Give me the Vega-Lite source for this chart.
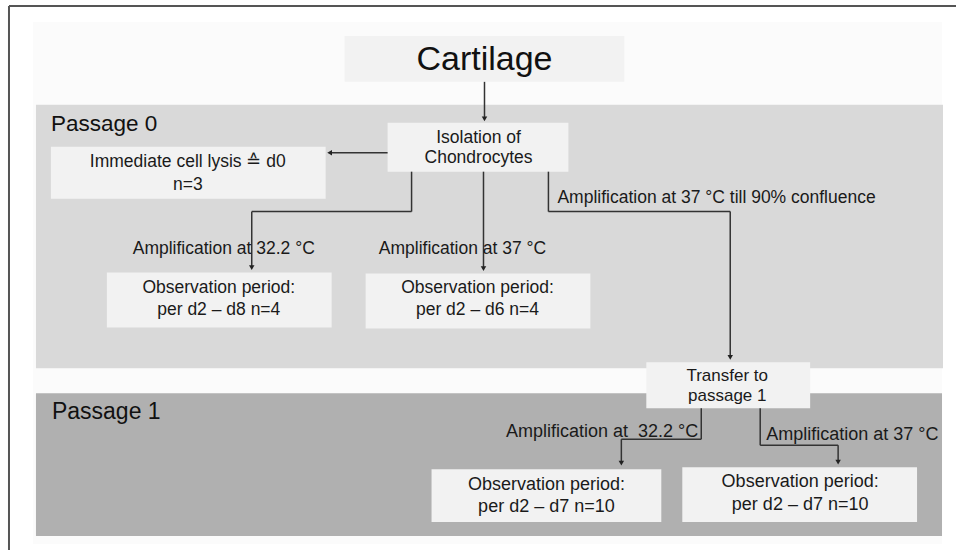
{
  "$schema": "https://vega.github.io/schema/vega-lite/v6.json",
  "width": 957,
  "height": 551,
  "autosize": {"type": "fit", "contains": "padding"},
  "padding": 0,
  "background": "white",
  "config": {"view": {"stroke": null}},
  "datasets": {
    "boxes": [
      {"x": 33, "x2": 943, "y": 22, "y2": 545, "kind": "bg"},
      {"x": 36, "x2": 944, "y": 105, "y2": 369, "kind": "p0"},
      {"x": 36, "x2": 943, "y": 394, "y2": 537, "kind": "p1"},
      {"x": 345, "x2": 625, "y": 36, "y2": 82, "kind": "box"},
      {"x": 388, "x2": 569, "y": 123, "y2": 172, "kind": "box"},
      {"x": 51, "x2": 326, "y": 147, "y2": 199, "kind": "box"},
      {"x": 107, "x2": 332, "y": 273, "y2": 328, "kind": "box"},
      {"x": 366, "x2": 591, "y": 274, "y2": 329, "kind": "box"},
      {"x": 647, "x2": 811, "y": 363, "y2": 409, "kind": "box"},
      {"x": 432, "x2": 662, "y": 470, "y2": 523, "kind": "box"},
      {"x": 683, "x2": 918, "y": 468, "y2": 523, "kind": "box"}
    ],
    "segments": [
      {"x": 9, "y": 6, "x2": 957, "y2": 6, "kind": "frame"},
      {"x": 9, "y": 6, "x2": 9, "y2": 551, "kind": "frame"},
      {"x": 485, "y": 82, "x2": 485, "y2": 118, "kind": "edge"},
      {"x": 388, "y": 153, "x2": 331, "y2": 153, "kind": "edge"},
      {"x": 412, "y": 172, "x2": 412, "y2": 212, "kind": "edge"},
      {"x": 412, "y": 212, "x2": 252, "y2": 212, "kind": "edge"},
      {"x": 252, "y": 212, "x2": 252, "y2": 267, "kind": "edge"},
      {"x": 484, "y": 172, "x2": 484, "y2": 268, "kind": "edge"},
      {"x": 549, "y": 172, "x2": 549, "y2": 212, "kind": "edge"},
      {"x": 549, "y": 212, "x2": 731, "y2": 212, "kind": "edge"},
      {"x": 731, "y": 212, "x2": 731, "y2": 357, "kind": "edge"},
      {"x": 702, "y": 409, "x2": 702, "y2": 440, "kind": "edge"},
      {"x": 702, "y": 440, "x2": 622, "y2": 440, "kind": "edge"},
      {"x": 622, "y": 440, "x2": 622, "y2": 462, "kind": "edge"},
      {"x": 761, "y": 409, "x2": 761, "y2": 446, "kind": "edge"},
      {"x": 761, "y": 446, "x2": 839, "y2": 446, "kind": "edge"},
      {"x": 839, "y": 446, "x2": 839, "y2": 461, "kind": "edge"}
    ],
    "arrows": [
      {"x": 485, "y": 119, "dir": "down"},
      {"x": 330, "y": 153, "dir": "left"},
      {"x": 252, "y": 268, "dir": "down"},
      {"x": 484, "y": 269, "dir": "down"},
      {"x": 731, "y": 358, "dir": "down"},
      {"x": 622, "y": 464, "dir": "down"},
      {"x": 839, "y": 463, "dir": "down"}
    ],
    "texts": [
      {"x": 485, "y": 60, "t": "Cartilage", "g": "title"},
      {"x": 51, "y": 124, "t": "Passage 0", "g": "p0head"},
      {"x": 479, "y": 138, "t": "Isolation of", "g": "p0c"},
      {"x": 479, "y": 158, "t": "Chondrocytes", "g": "p0c"},
      {"x": 188, "y": 162, "t": "Immediate cell lysis ≙ d0", "g": "p0c"},
      {"x": 188, "y": 185, "t": "n=3", "g": "p0c"},
      {"x": 224, "y": 249, "t": "Amplification at 32.2 °C", "g": "p0c"},
      {"x": 219, "y": 289, "t": "Observation period:", "g": "p0c"},
      {"x": 219, "y": 311, "t": "per d2 – d8 n=4", "g": "p0c"},
      {"x": 463, "y": 249, "t": "Amplification at 37 °C", "g": "p0c"},
      {"x": 478, "y": 289, "t": "Observation period:", "g": "p0c"},
      {"x": 478, "y": 311, "t": "per d2 – d6 n=4", "g": "p0c"},
      {"x": 558, "y": 198, "t": "Amplification at 37 °C till 90% confluence", "g": "p0l"},
      {"x": 52, "y": 413, "t": "Passage 1", "g": "p1head"},
      {"x": 728, "y": 377, "t": "Transfer to", "g": "p1t"},
      {"x": 728, "y": 397, "t": "passage 1", "g": "p1t"},
      {"x": 699, "y": 433, "t": "Amplification at\u00a0 32.2 °C", "g": "p1r"},
      {"x": 767, "y": 436, "t": "Amplification at 37 °C", "g": "p1l"},
      {"x": 547, "y": 486, "t": "Observation period:", "g": "p1c"},
      {"x": 547, "y": 508, "t": "per d2 – d7 n=10", "g": "p1c"},
      {"x": 801, "y": 483, "t": "Observation period:", "g": "p1c"},
      {"x": 801, "y": 506, "t": "per d2 – d7 n=10", "g": "p1c"}
    ]
  },
  "layer": [
    {
      "data": {"name": "boxes"},
      "mark": {"type": "rect", "strokeWidth": 0},
      "encoding": {
        "x": {"field": "x", "type": "quantitative", "scale": {"domain": [0, 957], "nice": false, "zero": false}, "axis": null},
        "x2": {"field": "x2"},
        "y": {"field": "y", "type": "quantitative", "scale": {"domain": [0, 551], "nice": false, "zero": false, "reverse": true}, "axis": null},
        "y2": {"field": "y2"},
        "color": {"field": "kind", "type": "nominal", "legend": null, "scale": {"domain": ["bg", "p0", "p1", "box"], "range": ["#fbfbfb", "#d9d9d9", "#b0b0b0", "#f2f2f2"]}}
      }
    },
    {
      "data": {"name": "segments"},
      "mark": {"type": "rule"},
      "encoding": {
        "x": {"field": "x", "type": "quantitative", "scale": {"domain": [0, 957], "nice": false, "zero": false}, "axis": null},
        "x2": {"field": "x2"},
        "y": {"field": "y", "type": "quantitative", "scale": {"domain": [0, 551], "nice": false, "zero": false, "reverse": true}, "axis": null},
        "y2": {"field": "y2"},
        "strokeWidth": {"field": "kind", "type": "nominal", "legend": null, "scale": {"domain": ["frame", "edge"], "range": [2, 1.5]}},
        "stroke": {"field": "kind", "type": "nominal", "legend": null, "scale": {"domain": ["frame", "edge"], "range": ["#555555", "#333333"]}}
      }
    },
    {
      "data": {"name": "arrows"},
      "mark": {"type": "point", "filled": true, "opacity": 1, "color": "#222222", "size": 30},
      "encoding": {
        "x": {"field": "x", "type": "quantitative", "scale": {"domain": [0, 957], "nice": false, "zero": false}, "axis": null},
        "y": {"field": "y", "type": "quantitative", "scale": {"domain": [0, 551], "nice": false, "zero": false, "reverse": true}, "axis": null},
        "shape": {"field": "dir", "type": "nominal", "legend": null, "scale": {"domain": ["down", "left"], "range": ["triangle-down", "triangle-left"]}}
      }
    },
    {
      "data": {"name": "texts"},
      "transform": [{"filter": "datum.g == 'title'"}],
      "mark": {"type": "text", "font": "Liberation Sans", "fontSize": 34, "align": "center", "baseline": "middle", "color": "#111111"},
      "encoding": {
        "x": {"field": "x", "type": "quantitative", "scale": {"domain": [0, 957], "nice": false, "zero": false}, "axis": null},
        "y": {"field": "y", "type": "quantitative", "scale": {"domain": [0, 551], "nice": false, "zero": false, "reverse": true}, "axis": null},
        "text": {"field": "t"}
      }
    },
    {
      "data": {"name": "texts"},
      "transform": [{"filter": "datum.g == 'p0head'"}],
      "mark": {"type": "text", "font": "Liberation Sans", "fontSize": 22.5, "align": "left", "baseline": "middle", "color": "#111111"},
      "encoding": {
        "x": {"field": "x", "type": "quantitative", "scale": {"domain": [0, 957], "nice": false, "zero": false}, "axis": null},
        "y": {"field": "y", "type": "quantitative", "scale": {"domain": [0, 551], "nice": false, "zero": false, "reverse": true}, "axis": null},
        "text": {"field": "t"}
      }
    },
    {
      "data": {"name": "texts"},
      "transform": [{"filter": "datum.g == 'p0c'"}],
      "mark": {"type": "text", "font": "Liberation Sans", "fontSize": 17.5, "align": "center", "baseline": "middle", "color": "#1a1a1a"},
      "encoding": {
        "x": {"field": "x", "type": "quantitative", "scale": {"domain": [0, 957], "nice": false, "zero": false}, "axis": null},
        "y": {"field": "y", "type": "quantitative", "scale": {"domain": [0, 551], "nice": false, "zero": false, "reverse": true}, "axis": null},
        "text": {"field": "t"}
      }
    },
    {
      "data": {"name": "texts"},
      "transform": [{"filter": "datum.g == 'p0l'"}],
      "mark": {"type": "text", "font": "Liberation Sans", "fontSize": 17.5, "align": "left", "baseline": "middle", "color": "#1a1a1a"},
      "encoding": {
        "x": {"field": "x", "type": "quantitative", "scale": {"domain": [0, 957], "nice": false, "zero": false}, "axis": null},
        "y": {"field": "y", "type": "quantitative", "scale": {"domain": [0, 551], "nice": false, "zero": false, "reverse": true}, "axis": null},
        "text": {"field": "t"}
      }
    },
    {
      "data": {"name": "texts"},
      "transform": [{"filter": "datum.g == 'p1head'"}],
      "mark": {"type": "text", "font": "Liberation Sans", "fontSize": 23, "align": "left", "baseline": "middle", "color": "#111111"},
      "encoding": {
        "x": {"field": "x", "type": "quantitative", "scale": {"domain": [0, 957], "nice": false, "zero": false}, "axis": null},
        "y": {"field": "y", "type": "quantitative", "scale": {"domain": [0, 551], "nice": false, "zero": false, "reverse": true}, "axis": null},
        "text": {"field": "t"}
      }
    },
    {
      "data": {"name": "texts"},
      "transform": [{"filter": "datum.g == 'p1t'"}],
      "mark": {"type": "text", "font": "Liberation Sans", "fontSize": 17, "align": "center", "baseline": "middle", "color": "#1a1a1a"},
      "encoding": {
        "x": {"field": "x", "type": "quantitative", "scale": {"domain": [0, 957], "nice": false, "zero": false}, "axis": null},
        "y": {"field": "y", "type": "quantitative", "scale": {"domain": [0, 551], "nice": false, "zero": false, "reverse": true}, "axis": null},
        "text": {"field": "t"}
      }
    },
    {
      "data": {"name": "texts"},
      "transform": [{"filter": "datum.g == 'p1c'"}],
      "mark": {"type": "text", "font": "Liberation Sans", "fontSize": 18, "align": "center", "baseline": "middle", "color": "#1a1a1a"},
      "encoding": {
        "x": {"field": "x", "type": "quantitative", "scale": {"domain": [0, 957], "nice": false, "zero": false}, "axis": null},
        "y": {"field": "y", "type": "quantitative", "scale": {"domain": [0, 551], "nice": false, "zero": false, "reverse": true}, "axis": null},
        "text": {"field": "t"}
      }
    },
    {
      "data": {"name": "texts"},
      "transform": [{"filter": "datum.g == 'p1r'"}],
      "mark": {"type": "text", "font": "Liberation Sans", "fontSize": 18, "align": "right", "baseline": "middle", "color": "#1a1a1a"},
      "encoding": {
        "x": {"field": "x", "type": "quantitative", "scale": {"domain": [0, 957], "nice": false, "zero": false}, "axis": null},
        "y": {"field": "y", "type": "quantitative", "scale": {"domain": [0, 551], "nice": false, "zero": false, "reverse": true}, "axis": null},
        "text": {"field": "t"}
      }
    },
    {
      "data": {"name": "texts"},
      "transform": [{"filter": "datum.g == 'p1l'"}],
      "mark": {"type": "text", "font": "Liberation Sans", "fontSize": 18, "align": "left", "baseline": "middle", "color": "#1a1a1a"},
      "encoding": {
        "x": {"field": "x", "type": "quantitative", "scale": {"domain": [0, 957], "nice": false, "zero": false}, "axis": null},
        "y": {"field": "y", "type": "quantitative", "scale": {"domain": [0, 551], "nice": false, "zero": false, "reverse": true}, "axis": null},
        "text": {"field": "t"}
      }
    }
  ]
}
